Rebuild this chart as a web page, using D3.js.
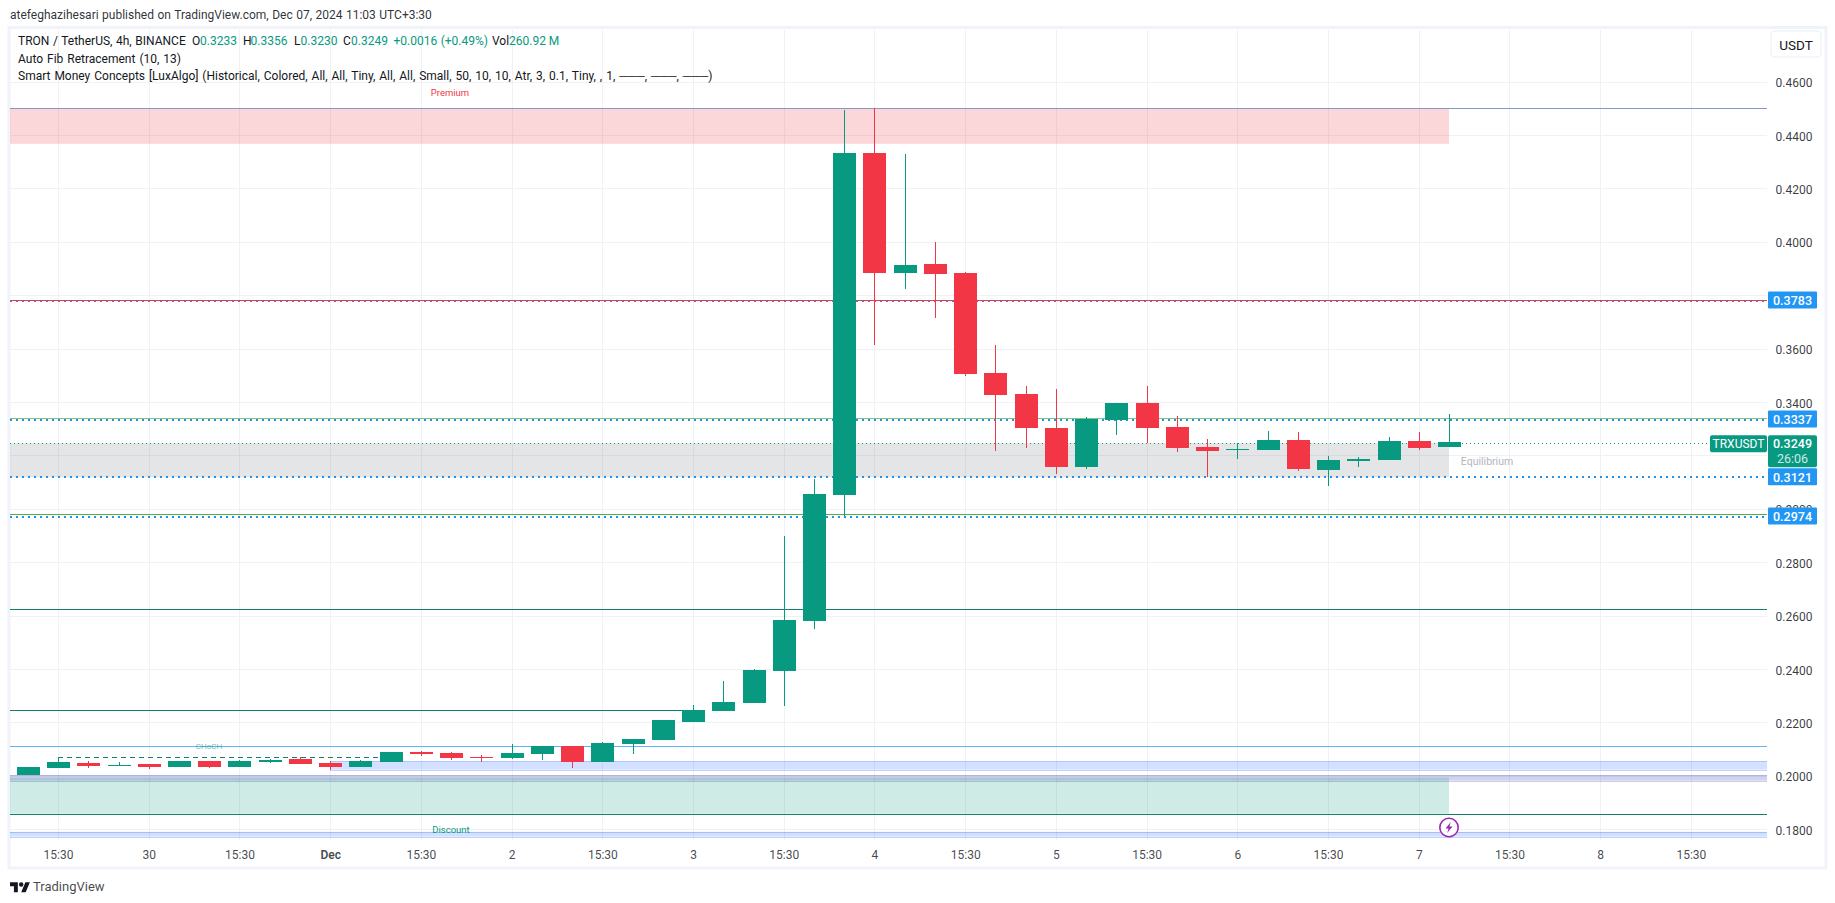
<!DOCTYPE html>
<html><head><meta charset="utf-8">
<script src="https://cdn.jsdelivr.net/npm/d3@7/dist/d3.min.js"></script>
<style>
html,body{margin:0;padding:0;background:#fff;overflow:hidden}
svg{display:block}
text{font-family:Roboto,"Liberation Sans",sans-serif}
</style></head><body><svg id="c" width="1835" height="903"></svg>
<script>
const opens =[.2003,.2029,.2048,.2037,.2044,.2033,.2055,.2033,.2052,.2063,.2048,.2033,.2052,.2089,.2085,.2070,.2067,.2082,.2112,.2052,.2119,.2134,.2202,.2243,.2273,.2393,.2580,.3052,.4333,.3883,.3917,.3883,.3509,.3430,.3303,.3157,.3333,.3396,.3306,.3231,.3220,.3220,.3258,.3145,.3179,.3183,.3254,.3233];
const closes=[.2033,.2052,.2037,.2040,.2033,.2055,.2033,.2055,.2059,.2044,.2033,.2055,.2089,.2082,.2067,.2067,.2085,.2112,.2052,.2123,.2138,.2209,.2246,.2276,.2396,.2584,.3055,.4333,.3883,.3913,.3879,.3505,.3426,.3303,.3157,.3336,.3396,.3303,.3228,.3216,.3224,.3258,.3149,.3183,.3186,.3254,.3228,.3249];
const highs =[.2033,.2070,.2055,.2052,.2044,.2055,.2055,.2059,.2063,.2070,.2055,.2059,.2089,.2093,.2089,.2078,.2119,.2112,.2112,.2127,.2138,.2209,.2265,.2355,.2400,.2898,.3112,.4494,.4501,.4329,.3999,.3887,.3613,.3460,.3449,.3344,.3396,.3460,.3348,.3261,.3246,.3291,.3288,.3198,.3194,.3269,.3288,.3356];
const lows  =[.2003,.2029,.2029,.2037,.2025,.2033,.2029,.2033,.2048,.2044,.2022,.2033,.2052,.2074,.2059,.2052,.2063,.2059,.2029,.2052,.2082,.2134,.2202,.2243,.2273,.2261,.2550,.2969,.3613,.3823,.3715,.3497,.3216,.3228,.3130,.3149,.3276,.3246,.3213,.3119,.3186,.3220,.3142,.3085,.3157,.3183,.3220,.3230];
const priceTicks=[.46,.44,.42,.40,.38,.36,.34,.32,.30,.28,.26,.24,.22,.20,.18];
const timeTickIndex=[1,4,7,10,13,16,19,22,25,28,31,34,37,40,43,46,49,52,55];
const timeTickLabels=["15:30","30","15:30","Dec","15:30","2","15:30","3","15:30","4","15:30","5","15:30","6","15:30","7","15:30","8","15:30"];
const tagPrices=[.3783,.3337,.3121,.2974];
const lastPrice=.3249, countdown="26:06", symbol="TRXUSDT";
const premiumZone=[.4500,.4367], equilibriumZone=[.3246,.3118], discountZone=[.1993,.1858];
const blueZones=[[.2054,.2023],[.2002,.1982],[.1790,.1772]];
const topLine=.4500, redLine=.3782, greenLines=[.3339,.2979], tealLine=.2624, shortLine=.2245, blueLine=.2112, chochLine=.2070, discountLine=.1858;
const legendValues=["0.3233","0.3356","0.3230","0.3249"];

const L=10,R=1767,UP="#089981",DN="#f23645";
const svg=d3.select("#c");
const x=d3.scaleLinear().domain([0,47]).range([27.8,1449]);
const y=d3.scaleLinear().domain([.46,.18]).range([81.6,829.2]);
const Y=p=>Math.round(y(p))+.5, X=i=>Math.round(x(i))+.5;

// frame
svg.append("rect").attr("x",9).attr("y",27.5).attr("width",1817).attr("height",840.5).attr("fill","#fff").attr("stroke","#f0f3fa").attr("stroke-width",3);

const pane=svg.append("g");
// grid
pane.selectAll(".gh").data(priceTicks).join("line").attr("x1",L).attr("x2",R).attr("y1",Y).attr("y2",Y).attr("stroke","#f0f1f4");
pane.selectAll(".gv").data(timeTickIndex).join("line").attr("x1",X).attr("x2",X).attr("y1",30).attr("y2",840).attr("stroke","#f0f1f4");

// zones
function zone(z,x0,x1,fill,op){pane.append("rect").attr("x",x0).attr("width",x1-x0).attr("y",y(z[0])).attr("height",y(z[1])-y(z[0])).attr("fill",fill).attr("fill-opacity",op);}
zone(premiumZone,L,x(47),DN,.2);
zone(equilibriumZone,L,x(47),"#787b86",.2);
zone(discountZone,L,x(47),UP,.2);
blueZones.forEach((z,i)=>{
  const x0=i==0?x(10):L, col=i==1?"#3949ab":"#2962ff";
  zone(z,x0,R,col,i==1?.24:.2);
  z.forEach(p=>pane.append("line").attr("x1",x0).attr("x2",R).attr("y1",Y(p)).attr("y2",Y(p)).attr("stroke",col).attr("stroke-opacity",.28));
});

// levels
function hline(p,x0,x1,col,dash,w,yy){const v=yy===undefined?Y(p):yy;return pane.append("line").attr("x1",x0).attr("x2",x1).attr("y1",v).attr("y2",v).attr("stroke",col).attr("stroke-width",w||1).attr("stroke-dasharray",dash||null).attr("shape-rendering","crispEdges");}
hline(topLine,L,R,"#8497c8");
hline(blueLine,L,R,"#5db4f3");
hline(tealLine,L,R,"#14806c");
hline(shortLine,L,x(22),"#14806c");
hline(discountLine,L,R,"#14806c");
hline(chochLine,x(1),x(12),"#14806c","5 4");
pane.append("line").attr("x1",X(1)).attr("x2",X(1)).attr("y1",Y(chochLine)).attr("y2",Y(closes[1])).attr("stroke",UP);
tagPrices.forEach(p=>hline(p,L,R,"#2a90e4","2 4",2));
hline(redLine,L,R,"#f23645");
greenLines.forEach((p,i)=>hline(p,L,R,i?"#4caf50":"#7cc47f"));
hline(lastPrice,L,R,"#089981","1 3",1,Math.ceil(y(lastPrice))+.5);

// candles
const idx=d3.range(opens.length);
pane.selectAll(".w").data(idx).join("line").attr("x1",X).attr("x2",X)
 .attr("y1",i=>y(highs[i])).attr("y2",i=>y(lows[i]))
 .attr("stroke",i=>closes[i]>=opens[i]?UP:DN).attr("shape-rendering","crispEdges");
pane.selectAll(".b").data(idx).join("rect").attr("x",i=>Math.round(x(i))-11).attr("width",23)
 .attr("y",i=>Math.round(y(Math.max(opens[i],closes[i]))))
 .attr("height",i=>Math.max(1,Math.round(y(Math.min(opens[i],closes[i])))-Math.round(y(Math.max(opens[i],closes[i])))))
 .attr("fill",i=>closes[i]>=opens[i]?UP:DN).attr("shape-rendering","crispEdges");

// chart labels
const lab=(t,px,py,col,s,a)=>svg.append("text").attr("x",px).attr("y",py).attr("fill",col).attr("font-size",s).attr("text-anchor",a||"middle").attr("dominant-baseline","central").text(t);
lab("Premium",450,92.5,"#f23645",9.5);
lab("Discount",451,829,"#089981",9.5);
lab("CHoCH",209,746,"#089981",8).attr("opacity",.6);
lab("Equilibrium",1487,461,"#b2b5be",10.5);

// axis right
const ya=svg.append("g").attr("transform","translate(1794,0)").call(d3.axisRight(y).tickValues(priceTicks).tickFormat(d3.format(".4f")).tickSize(0).tickPadding(0));
ya.select(".domain").remove();
ya.selectAll("text").attr("text-anchor","middle").attr("font-size",12).attr("font-family","Roboto").attr("fill","#131722").attr("fill-opacity",.85).attr("dy",".42em");

tagPrices.forEach(p=>{
  const c=y(p);
  svg.append("rect").attr("x",1768).attr("y",c-8.3).attr("width",49).attr("height",17).attr("rx",1).attr("fill","#2196f3");
  lab(d3.format(".4f")(p),1792.5,c+.7,"#fff",12.5).attr("font-weight",500);
});
const ly=y(lastPrice)+1;
svg.append("rect").attr("x",1768).attr("y",ly-8).attr("width",49).attr("height",32).attr("rx",2).attr("fill",UP);
lab(d3.format(".4f")(lastPrice),1792.5,ly+.5,"#fff",12.5).attr("font-weight",500);
lab(countdown,1792.5,ly+15.5,"#fff",12.5).attr("opacity",.8);
svg.append("rect").attr("x",1710).attr("y",ly-8).attr("width",57).attr("height",17).attr("rx",2).attr("fill",UP);
lab(symbol,1738.5,ly+.5,"#fff",12);

// USDT button
svg.append("rect").attr("x",1771).attr("y",31).attr("width",50).attr("height",26).attr("rx",4).attr("fill","#fff").attr("stroke","#f0f3fa").attr("stroke-width",1.5);
lab("USDT",1796,44.5,"#131722",13.5);

// time axis
const xa=svg.append("g").attr("transform","translate(0,850)").call(d3.axisBottom(x).tickValues(timeTickIndex).tickFormat((d,i)=>timeTickLabels[i]).tickSize(0).tickPadding(0));
xa.select(".domain").remove();
xa.selectAll("text").attr("font-size",12).attr("font-family","Roboto").attr("fill","#131722").attr("fill-opacity",.8)
  .attr("font-weight",(d,i)=>timeTickLabels[i]=="Dec"?600:400);

// lightning mark
const m=svg.append("g").attr("transform",`translate(${x(47)},827.5)`);
m.append("circle").attr("r",9.2).attr("fill","#fff").attr("stroke","#9c27b0").attr("stroke-width",1.6);
m.append("path").attr("d","M1.8,-5.5 L-3.5,1 L-0.4,1 L-1.8,5.5 L3.5,-1 L0.4,-1 Z").attr("fill","#9c27b0");

// header / legend
lab("atefeghazihesari published on TradingView.com, Dec 07, 2024 11:03 UTC+3:30",10,14.5,"#131722",12,"start").attr("fill-opacity",.9).attr("word-spacing",.5);
const l1=svg.append("text").attr("x",18).attr("y",41).attr("dominant-baseline","central").attr("font-size",12).attr("fill","#131722");
l1.append("tspan").attr("word-spacing",.6).text("TRON / TetherUS, 4h, BINANCE");
const tv=(t,px)=>l1.append("tspan").attr("x",px).attr("fill",UP).text(t);
const tk=(t,px)=>l1.append("tspan").attr("x",px).text(t);
tk("O",192);tv(legendValues[0],200);tk("H",243);tv(legendValues[1],250.5);tk("L",294);tv(legendValues[2],300.5);tk("C",343);tv(legendValues[3],351);tv("+0.0016 (+0.49%)",393.5).attr("word-spacing",.5);tk("Vol",492);tv("260.92 M",509);
lab("Auto Fib Retracement (10, 13)",18,59,"#131722",12,"start").attr("word-spacing",1);
lab("Smart Money Concepts [LuxAlgo] (Historical, Colored, All, All, Tiny, All, All, Small, 50, 10, 10, Atr, 3, 0.1, Tiny, , 1, ───, ───, ───)",18,76,"#131722",12,"start").attr("word-spacing",.95);

// logo
svg.append("path").attr("transform","translate(10,880) scale(.56)").attr("d","M14 22H7V11H0V4h14v18zM28 22h-8l7.5-18h8L28 22z").attr("fill","#131722");
svg.append("circle").attr("transform","translate(10,880) scale(.56)").attr("cx",20).attr("cy",8).attr("r",4).attr("fill","#131722");
lab("TradingView",33,886,"#131722",13,"start").attr("fill-opacity",.8);
</script></body></html>
